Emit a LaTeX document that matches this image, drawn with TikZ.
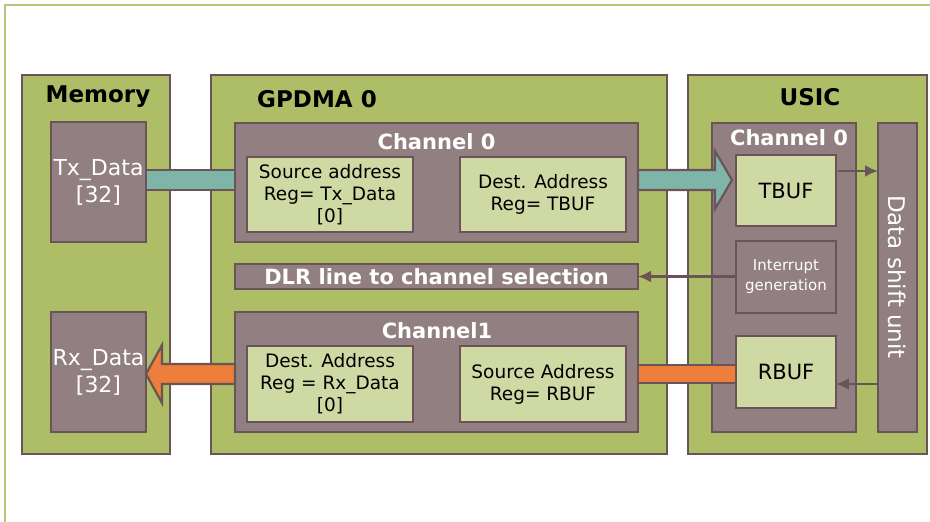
\documentclass[tikz,border=0pt]{standalone}
\usepackage{fontspec}
\setmainfont{DejaVu Sans}
\usetikzlibrary{arrows.meta}

\definecolor{frameg}{HTML}{B5C77B}
\definecolor{panelg}{HTML}{ADBE66}
\definecolor{edgec}{HTML}{6A5458}
\definecolor{mauvec}{HTML}{917F82}
\definecolor{lightg}{HTML}{CFD9A3}
\definecolor{tealbar}{HTML}{7FB5A8}
\definecolor{orangebar}{HTML}{ED7E3B}

\newcommand{\fsz}[2]{\fontsize{#1}{#2}\selectfont}

\begin{document}
\begin{tikzpicture}[x=1pt,y=-1pt,
  every node/.style={inner sep=0pt, outer sep=0pt},
  panel/.style={rectangle, draw=edgec, fill=panelg, line width=2.8pt},
  block/.style={rectangle, draw=edgec, fill=mauvec, line width=2.8pt, text=white, align=center},
  reg/.style={rectangle, draw=edgec, fill=lightg, line width=2.8pt, text=black, align=center},
  heading/.style={font=\bfseries\fsz{23}{27}, text=black},
  chtitle/.style={font=\bfseries\fsz{21}{25}, text=white},
  regtext/.style={font=\fsz{18.5}{22}},
  conn/.style={draw=edgec, line width=2.4pt, -{Latex[length=13pt,width=12pt]}},
  flowarrow/.style={draw=edgec, line width=2.2pt, line join=miter}
]
\useasboundingbox (0,0) rectangle (930,522);
\clip (0,0) rectangle (930,522);

% outer frame
\draw[frameg, line width=2.5pt] (5,5) rectangle (960,560);

% main panels
\node[panel, minimum width=148pt, minimum height=379pt] (mem)   at (96,264.5) {};
\node[panel, minimum width=456pt, minimum height=379pt] (gpdma) at (439,264.5) {};
\node[panel, minimum width=239pt, minimum height=379pt] (usic)  at (807.5,264.5) {};

\node[heading] (memt)   at (98,97)  {Memory};
\node[heading] (gpdmat) at (317,99) {GPDMA 0};
\node[heading] (usict)  at (810,97) {USIC};

% memory buffers
\node[block, font=\fsz{22}{27}, minimum width=95pt, minimum height=120pt] (tx) at (98.5,182) {Tx\_Data\\{}[32]};
\node[block, font=\fsz{22}{27}, minimum width=95pt, minimum height=120pt] (rx) at (98.5,372) {Rx\_Data\\{}[32]};

% GPDMA channels
\node[block, minimum width=403pt, minimum height=119pt] (ch0) at (436.5,182.5) {};
\node[chtitle] (ch0t) at (436.5,142) {Channel 0};
\node[reg, regtext, minimum width=166pt, minimum height=75pt] (src0) at (330,194.5) {Source address\\Reg= Tx\_Data\\{}[0]};
\node[reg, regtext, minimum width=166pt, minimum height=75pt] (dst0) at (543,194.5) {Dest. Address\\Reg= TBUF};

\node[block, chtitle, minimum width=403pt, minimum height=25pt] (dlr) at (436.5,276.5) {DLR line to channel selection};

\node[block, minimum width=403pt, minimum height=120pt] (ch1) at (436.5,372) {};
\node[chtitle] (ch1t) at (437,331) {Channel1};
\node[reg, regtext, minimum width=166pt, minimum height=76pt] (dst1) at (330,384) {Dest. Address\\Reg = Rx\_Data\\{}[0]};
\node[reg, regtext, minimum width=166pt, minimum height=76pt] (src1) at (543,384) {Source Address\\Reg= RBUF};

% USIC channel
\node[block, minimum width=144pt, minimum height=309pt] (uch0) at (784,277.5) {};
\node[chtitle] (uch0t) at (789,138) {Channel 0};
\node[reg, font=\fsz{21}{25}, minimum width=100pt, minimum height=71pt] (tbuf) at (786,190.5) {TBUF};
\node[block, font=\fsz{15}{20}, minimum width=100pt, minimum height=72pt] (intr) at (786,277) {Interrupt\\generation};
\node[reg, font=\fsz{21}{25}, minimum width=100pt, minimum height=72pt] (rbuf) at (786,372) {RBUF};
\node[block, minimum width=39pt, minimum height=309pt] (dsu) at (897.5,277.5) {};
\node[font=\fsz{23}{27}, text=white, rotate=-90] (dsut) at (897,277) {Data shift unit};

% transmit path
\filldraw[flowarrow, fill=tealbar] ([yshift=12pt]tx.east) rectangle ([yshift=-7.5pt]ch0.west);
\path ([yshift=2.5pt]ch0.east) coordinate (ta);
\filldraw[flowarrow, fill=tealbar] (ta) ++(0,-10) -- ++(77,0) -- ++(0,-19) -- ++(17,29)
  -- ++(-17,29) -- ++(0,-19) -- ++(-77,0) -- cycle;

% receive path
\filldraw[flowarrow, fill=orangebar] ([yshift=7pt]ch1.east) rectangle ([yshift=-11pt]rbuf.west);
\path ([yshift=-2pt]ch1.west) coordinate (oa);
\filldraw[flowarrow, fill=orangebar] (oa) ++(0,-10) -- ++(-73,0) -- ++(0,-19) -- ++(-16,29)
  -- ++(16,29) -- ++(0,-19) -- ++(73,0) -- cycle;

% internal USIC connections
\path ([xshift=2pt,yshift=-16pt]tbuf.north east) coordinate (t1);
\draw[conn] (t1) -- (t1 -| dsu.west);
\path ([yshift=-12pt]rbuf.east) coordinate (r1);
\draw[conn] (r1 -| dsu.west) -- (r1);
\draw[conn] (intr.west |- dlr.east) -- (dlr.east);
\end{tikzpicture}
\end{document}
